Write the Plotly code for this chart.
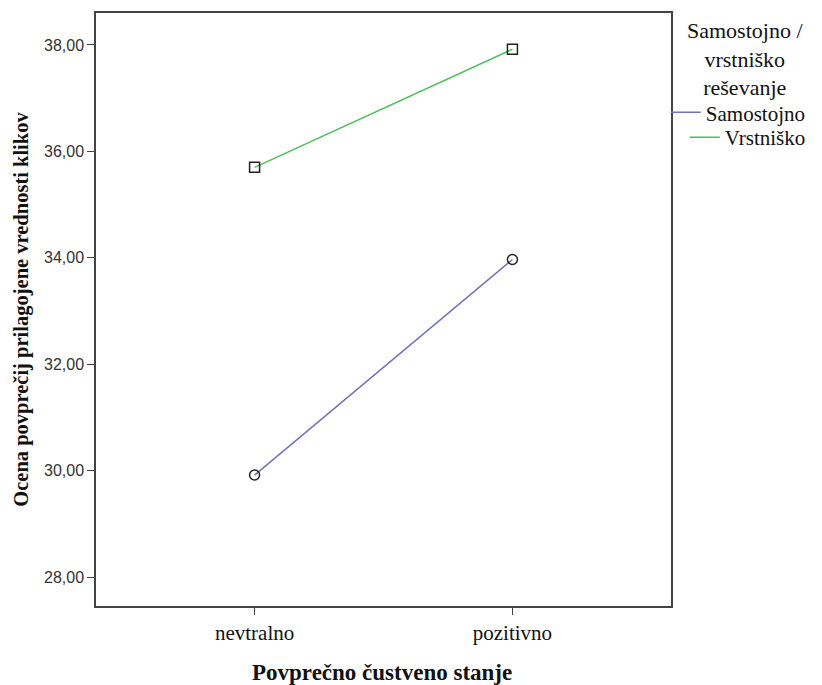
import plotly.graph_objects as go

categories = ["nevtralno", "pozitivno"]
samostojno = [29.92, 33.97]
vrstnisko = [35.70, 37.92]
series_names = ["Samostojno", "Vrstniško"]
legend_title = "Samostojno /<br>vrstniško<br>reševanje"
x_title = "<b>Povprečno čustveno stanje</b>"
y_title = "<b>Ocena povprečij prilagojene vrednosti klikov</b>"
y_ticks = [28, 30, 32, 34, 36, 38]

serif = "Liberation Serif"
sans = "Liberation Sans"
blue = "#6f74b9"
green = "#4cbf5a"

L, R, T, B, W, H = 96, 142, 11, 79, 822, 685
PW, PH = W - L - R, H - T - B


def px_x(px):
    return (px - L) / PW


def px_y(py):
    return 1 - (py - T) / PH


fig = go.Figure()
fig.add_trace(go.Scatter(x=categories, y=samostojno, mode="lines+markers",
                         line=dict(color=blue, width=1.5),
                         marker=dict(symbol="circle-open", size=10, color="#222222", line=dict(width=1.5)),
                         showlegend=False))
fig.add_trace(go.Scatter(x=categories, y=vrstnisko, mode="lines+markers",
                         line=dict(color=green, width=1.5),
                         marker=dict(symbol="square-open", size=10, color="#222222", line=dict(width=1.5)),
                         showlegend=False))
for name, col, leg in zip(series_names, [blue, green], ["legend", "legend2"]):
    fig.add_trace(go.Scatter(x=[None], y=[None], mode="lines", name=name, legend=leg,
                             line=dict(color=col, width=1.5)))

leg_common = dict(xref="paper", x=px_x(822), xanchor="right", yref="paper", yanchor="middle",
                  font=dict(family=serif, size=21, color="#111111"),
                  itemwidth=30, bgcolor="rgba(0,0,0,0)")

fig.add_annotation(text=legend_title, xref="paper", yref="paper", x=px_x(755), y=px_y(14),
                   xanchor="center", yanchor="top", showarrow=False, align="center",
                   font=dict(family=serif, size=22, color="#111111"))
fig.add_annotation(text=x_title, xref="paper", yref="paper", x=px_x(386), y=px_y(673),
                   xanchor="center", yanchor="middle", showarrow=False,
                   font=dict(family=serif, size=23, color="#111111"))

fig.update_layout(
    width=W, height=H,
    margin=dict(l=L, r=R, t=T, b=B),
    paper_bgcolor="white", plot_bgcolor="white",
    separators=",.",
    showlegend=True,
    legend=dict(y=px_y(111), **leg_common),
    legend2=dict(y=px_y(136), **leg_common),
    xaxis=dict(type="category", range=[-0.615, 1.615], showline=True, linecolor="#444444",
               linewidth=1.5, mirror=True, ticks="outside", ticklen=7, tickcolor="#444444",
               tickfont=dict(family=serif, size=21, color="#111111"), showgrid=False, zeroline=False),
    yaxis=dict(range=[27.46, 38.6], tickvals=y_ticks, tickformat=".2f", showline=True,
               linecolor="#444444", linewidth=1.5, mirror=True, ticks="outside", ticklen=7,
               tickcolor="#444444", tickfont=dict(family=sans, size=16, color="#333333"),
               showgrid=False, zeroline=False,
               title=dict(text=y_title, font=dict(family=serif, size=20.5, color="#111111"), standoff=10)),
)

fig.write_html("out.html")
